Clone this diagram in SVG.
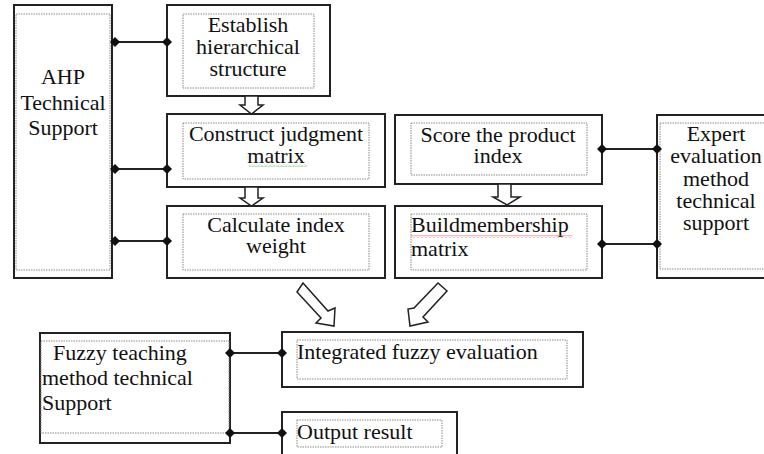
<svg xmlns="http://www.w3.org/2000/svg" width="764" height="454" viewBox="0 0 764 454">
<style>
.box{fill:#fff;stroke:#222;stroke-width:2}
.inner{fill:none;stroke:#8a8a8a;stroke-width:1;stroke-dasharray:1.5 1}
.t{font-family:"Liberation Serif","Times New Roman",serif;font-size:22px;fill:#111}
.mid{text-anchor:middle}
.conn{stroke:#222;stroke-width:2;fill:none;marker-start:url(#dia);marker-end:url(#dia)}
.hollow{fill:#fff;stroke:#222;stroke-width:1.5;stroke-linejoin:miter}
</style>
<defs>
<marker id="dia" viewBox="-5 -5 10 10" refX="0" refY="0" markerWidth="10" markerHeight="10" markerUnits="userSpaceOnUse" orient="auto">
<path d="M-5,0 L0,-5 L5,0 L0,5 Z" fill="#111"/>
</marker>
<pattern id="sqRed" patternUnits="userSpaceOnUse" width="4" height="3" x="0" y="0">
<path d="M0,2.5 L2,0.5 L4,2.5" fill="none" stroke="#e05050" stroke-width="0.8"/>
</pattern>
<pattern id="sqGreen" patternUnits="userSpaceOnUse" width="4" height="3" x="0" y="0">
<path d="M0,2.5 L2,0.5 L4,2.5" fill="none" stroke="#6cbf6c" stroke-width="0.8"/>
</pattern>
</defs>
<rect width="764" height="454" fill="#fff"/>

<g id="ahp">
<rect class="box" x="14" y="5" width="98" height="273"/>
<rect class="inner" x="16" y="14" width="94" height="256"/>
<text class="t mid" x="63" y="84">AHP</text>
<text class="t mid" x="63" y="110">Technical</text>
<text class="t mid" x="63" y="135">Support</text>
</g>

<g id="establish">
<rect class="box" x="167" y="5" width="163" height="91"/>
<rect class="inner" x="183" y="14" width="131" height="74"/>
<text class="t mid" x="248" y="32">Establish</text>
<text class="t mid" x="248" y="54">hierarchical</text>
<text class="t mid" x="248" y="76">structure</text>
</g>

<g id="construct">
<rect class="box" x="167" y="114" width="218" height="73"/>
<rect class="inner" x="183" y="123" width="186" height="56"/>
<text class="t mid" x="276" y="141">Construct judgment</text>
<text class="t mid" x="276" y="163">matrix</text>
<rect x="249" y="164" width="58" height="3" fill="url(#sqGreen)"/>
</g>

<g id="calculate">
<rect class="box" x="167" y="206" width="218" height="72"/>
<rect class="inner" x="183" y="214" width="186" height="56"/>
<text class="t mid" x="276" y="232">Calculate index</text>
<text class="t mid" x="276" y="253">weight</text>
</g>

<g id="score">
<rect class="box" x="395" y="115" width="207" height="69"/>
<rect class="inner" x="411" y="123" width="176" height="52"/>
<text class="t mid" x="498" y="142">Score the product</text>
<text class="t mid" x="498" y="163">index</text>
</g>

<g id="build">
<rect class="box" x="395" y="206" width="207" height="72"/>
<rect class="inner" x="411" y="214" width="176" height="56"/>
<text class="t" x="411" y="232">Buildmembership</text>
<text class="t" x="411" y="256">matrix</text>
<rect x="411" y="235" width="161" height="3" fill="url(#sqRed)"/>
</g>

<g id="expert">
<rect class="box" x="657" y="115" width="120" height="163"/>
<rect class="inner" x="660" y="123" width="110" height="146"/>
<text class="t mid" x="716" y="141">Expert</text>
<text class="t mid" x="716" y="163">evaluation</text>
<text class="t mid" x="716" y="186">method</text>
<text class="t mid" x="716" y="208">technical</text>
<text class="t mid" x="716" y="230">support</text>
</g>

<g id="integrated">
<rect class="box" x="282" y="332" width="301" height="55"/>
<rect class="inner" x="297" y="340" width="270" height="39"/>
<text class="t" x="297" y="359">Integrated fuzzy evaluation</text>
</g>

<g id="output">
<rect class="box" x="282" y="412" width="175" height="60"/>
<rect class="inner" x="297" y="420" width="145" height="27"/>
<text class="t" x="297" y="439">Output result</text>
</g>

<g id="fuzzy">
<rect class="box" x="40" y="333" width="190" height="110"/>
<rect class="inner" x="41" y="341" width="188" height="92"/>
<text class="t" x="53" y="360">Fuzzy teaching</text>
<text class="t" x="42" y="385">method technical</text>
<text class="t" x="42" y="410">Support</text>
</g>

<g id="connectors">
<line class="conn" x1="115" y1="42" x2="167" y2="42"/>
<line class="conn" x1="115" y1="169" x2="167" y2="169"/>
<line class="conn" x1="115" y1="241" x2="167" y2="241"/>
<line class="conn" x1="602" y1="149" x2="657" y2="149"/>
<line class="conn" x1="602" y1="244" x2="657" y2="244"/>
<line class="conn" x1="230" y1="353" x2="282" y2="353"/>
<line class="conn" x1="230" y1="433" x2="282" y2="433"/>
<polygon class="hollow" points="245,96 258,96 258,105 263,105 251.5,114 240,105 245,105"/>
<polygon class="hollow" points="245,187 258,187 258,198 263,198 251.5,206 240,198 245,198"/>
<polygon class="hollow" points="498,184 511,184 511,197 520,197 507,205 493,197 498,197"/>
<polygon class="hollow" points="303,283 328,311 335,308 334,326 316,323 321,318 297,292"/>
<polygon class="hollow" points="438,283 414,308 408,309 410,326 428,322 423,317 447,291"/>
</g>
</svg>
